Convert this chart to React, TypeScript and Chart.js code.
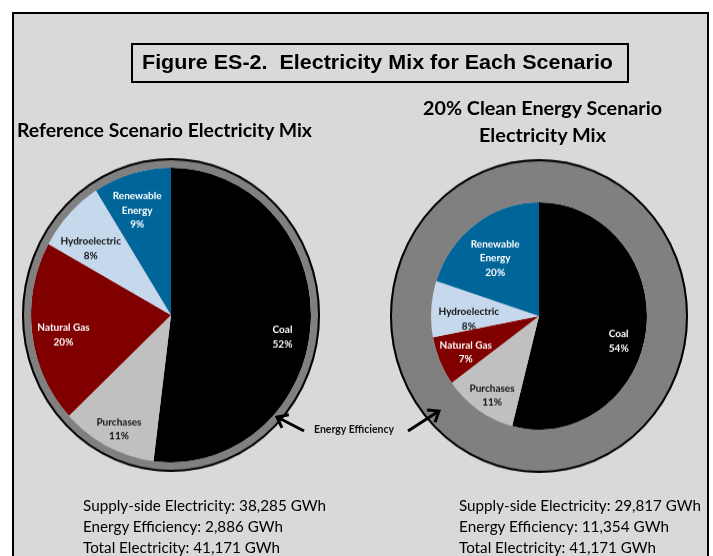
import React, { useEffect, useRef } from "react";
import { Chart, PieController, ArcElement } from "chart.js";

Chart.register(PieController, ArcElement);

// ---- data ----
const categories = ["Coal", "Purchases", "Natural Gas", "Hydroelectric", "Renewable Energy"];
const labelLines = [["Coal"], ["Purchases"], ["Natural Gas"], ["Hydroelectric"], ["Renewable", "Energy"]];
const referenceShares = [52, 11, 20, 8, 9];
const cleanShares = [54, 11, 7, 8, 20];
const referenceSupplyGWh = "38,285";
const referenceEfficiencyGWh = "2,886";
const cleanSupplyGWh = "29,817";
const cleanEfficiencyGWh = "11,354";
const totalElectricityGWh = "41,171";
const referenceEfficiencyValue = 2886;
const cleanEfficiencyValue = 11354;

// ---- styles ----
const sliceColors = ["#000000", "#c0c0c0", "#800000", "#c6d9ec", "#00669a"];
const labelColors = ["#ffffff", "#111111", "#ffffff", "#111111", "#ffffff"];
const ringColor = "#808080";

const leftLayout = {
  innerWeight: 140,
  ringWeight: 9,
  radii: [0.81, 0.86, 0.78, 0.73, 0.75],
  angleOffsets: [7, -1.4, -2.8, -5, -2.6],
};
const rightLayout = {
  innerWeight: 108,
  ringWeight: 41,
  radii: [0.77, 0.82, 0.75, 0.65, 0.65],
  angleOffsets: [9.4, -2.2, -1.8, -6, -2.6],
};

const ringOutline = {
  id: "ringOutline",
  afterDatasetsDraw(chart: any) {
    const arc = chart.getDatasetMeta(0).data[0];
    if (!arc) return;
    const p = arc.getProps(["x", "y", "outerRadius"], true);
    const ctx = chart.ctx;
    ctx.save();
    ctx.beginPath();
    ctx.arc(p.x, p.y, p.outerRadius - 1, 0, Math.PI * 2);
    ctx.lineWidth = 2;
    ctx.strokeStyle = "#000";
    ctx.stroke();
    ctx.restore();
  },
};

function sliceLabels(layout: any, shares: number[]) {
  return {
    id: "sliceLabels",
    afterDatasetsDraw(chart: any) {
      const meta = chart.getDatasetMeta(1);
      const ctx = chart.ctx;
      ctx.save();
      ctx.font = "bold 10px Lato";
      ctx.textAlign = "center";
      ctx.textBaseline = "middle";
      meta.data.forEach((arc: any, i: number) => {
        const p = arc.getProps(["x", "y", "startAngle", "endAngle", "outerRadius"], true);
        const ang = (p.startAngle + p.endAngle) / 2 + (layout.angleOffsets[i] * Math.PI) / 180;
        const r = p.outerRadius * layout.radii[i];
        const lx = p.x + Math.cos(ang) * r;
        const ly = p.y + Math.sin(ang) * r;
        const lines = [...labelLines[i], shares[i] + "%"];
        const lh = 13.4;
        ctx.fillStyle = labelColors[i];
        lines.forEach((t, k) => {
          ctx.fillText(t, lx, ly + (k - (lines.length - 1) / 2) * lh);
        });
      });
      ctx.restore();
    },
  };
}

function makeConfig(shares: number[], efficiency: number, layout: any): any {
  return {
    type: "pie",
    data: {
      labels: categories,
      datasets: [
        { data: [efficiency], backgroundColor: [ringColor], borderWidth: 0, weight: layout.ringWeight },
        { data: shares, backgroundColor: sliceColors, borderWidth: 0, weight: layout.innerWeight },
      ],
    },
    options: {
      responsive: false,
      animation: false,
      layout: { padding: 2 },
      events: [],
      plugins: { legend: { display: false }, tooltip: { enabled: false }, title: { display: false } },
    },
    plugins: [ringOutline, sliceLabels(layout, shares)],
  };
}

function Arrow({ tail, tip }: { tail: [number, number]; tip: [number, number] }) {
  const a = Math.atan2(tip[1] - tail[1], tip[0] - tail[0]);
  const L = 12;
  const s = (38 * Math.PI) / 180;
  const p1 = [tip[0] - L * Math.cos(a - s), tip[1] - L * Math.sin(a - s)];
  const p2 = [tip[0] - L * Math.cos(a + s), tip[1] - L * Math.sin(a + s)];
  return (
    <g stroke="#000" strokeWidth={3} fill="none" strokeLinecap="butt" strokeLinejoin="miter">
      <line x1={tail[0]} y1={tail[1]} x2={tip[0]} y2={tip[1]} />
      <polyline points={`${p1[0]},${p1[1]} ${tip[0]},${tip[1]} ${p2[0]},${p2[1]}`} />
    </g>
  );
}

export default function App() {
  const leftRef = useRef<HTMLCanvasElement>(null);
  const rightRef = useRef<HTMLCanvasElement>(null);

  useEffect(() => {
    const c1 = new Chart(leftRef.current!, makeConfig(referenceShares, referenceEfficiencyValue, leftLayout));
    const c2 = new Chart(rightRef.current!, makeConfig(cleanShares, cleanEfficiencyValue, rightLayout));
    return () => {
      c1.destroy();
      c2.destroy();
    };
  }, []);

  const size = 302;
  const half = size / 2;
  const lato = "Lato, 'Open Sans', sans-serif";

  return (
    <div style={{ position: "fixed", left: 0, top: 0, width: 713, height: 556, background: "#fff", overflow: "hidden" }}>
      <div
        style={{
          position: "absolute",
          left: 12,
          top: 12,
          width: 697,
          height: 580,
          boxSizing: "border-box",
          border: "2px solid #000",
          background: "#d9d9d9",
        }}
      />
      <div
        style={{
          position: "absolute",
          left: 131,
          top: 43,
          width: 498,
          height: 40,
          boxSizing: "border-box",
          border: "2px solid #000",
        }}
      />
      <div style={{ position: "absolute", left: 171 - half, top: 315 - half, width: size, height: size, transform: "scaleY(1.053)" }}>
        <canvas ref={leftRef} width={size} height={size} style={{ display: "block" }} />
      </div>
      <div style={{ position: "absolute", left: 539 - half, top: 316 - half, width: size, height: size, transform: "scaleY(1.053)" }}>
        <canvas ref={rightRef} width={size} height={size} style={{ display: "block" }} />
      </div>
      <svg width={713} height={556} style={{ position: "absolute", left: 0, top: 0 }}>
        <text x={142} y={69} textLength={471} lengthAdjust="spacingAndGlyphs" fontFamily="'Liberation Sans', Arial, sans-serif" fontWeight="bold" fontSize={20} fill="#000">
          {"Figure ES-2.\u00a0 Electricity Mix for Each Scenario"}
        </text>
        <text x={17} y={137} textLength={295} lengthAdjust="spacingAndGlyphs" fontFamily={lato} fontWeight="bold" fontSize={19} fill="#000">
          Reference Scenario Electricity Mix
        </text>
        <text x={423} y={115} textLength={239} lengthAdjust="spacingAndGlyphs" fontFamily={lato} fontWeight="bold" fontSize={19} fill="#000">
          20% Clean Energy Scenario
        </text>
        <text x={479} y={142} textLength={127} lengthAdjust="spacingAndGlyphs" fontFamily={lato} fontWeight="bold" fontSize={19} fill="#000">
          Electricity Mix
        </text>

        <text x={314} y={433} textLength={80} lengthAdjust="spacingAndGlyphs" fontFamily={lato} fontWeight="bold" fontSize={10.5} fill="#111">
          Energy Efficiency
        </text>
        <Arrow tail={[304, 431]} tip={[277, 417]} />
        <Arrow tail={[408, 431]} tip={[439, 411]} />

        <g fontFamily={lato} fontSize={14.5} fill="#000">
          <text x={83} y={511} textLength={243} lengthAdjust="spacingAndGlyphs">{`Supply-side Electricity: ${referenceSupplyGWh} GWh`}</text>
          <text x={83} y={532} textLength={200} lengthAdjust="spacingAndGlyphs">{`Energy Efficiency: ${referenceEfficiencyGWh} GWh`}</text>
          <text x={83} y={553} textLength={197} lengthAdjust="spacingAndGlyphs">{`Total Electricity: ${totalElectricityGWh} GWh`}</text>
          <text x={459} y={511} textLength={242} lengthAdjust="spacingAndGlyphs">{`Supply-side Electricity: ${cleanSupplyGWh} GWh`}</text>
          <text x={459} y={532} textLength={210} lengthAdjust="spacingAndGlyphs">{`Energy Efficiency: ${cleanEfficiencyGWh} GWh`}</text>
          <text x={459} y={553} textLength={197} lengthAdjust="spacingAndGlyphs">{`Total Electricity: ${totalElectricityGWh} GWh`}</text>
        </g>
      </svg>
    </div>
  );
}
